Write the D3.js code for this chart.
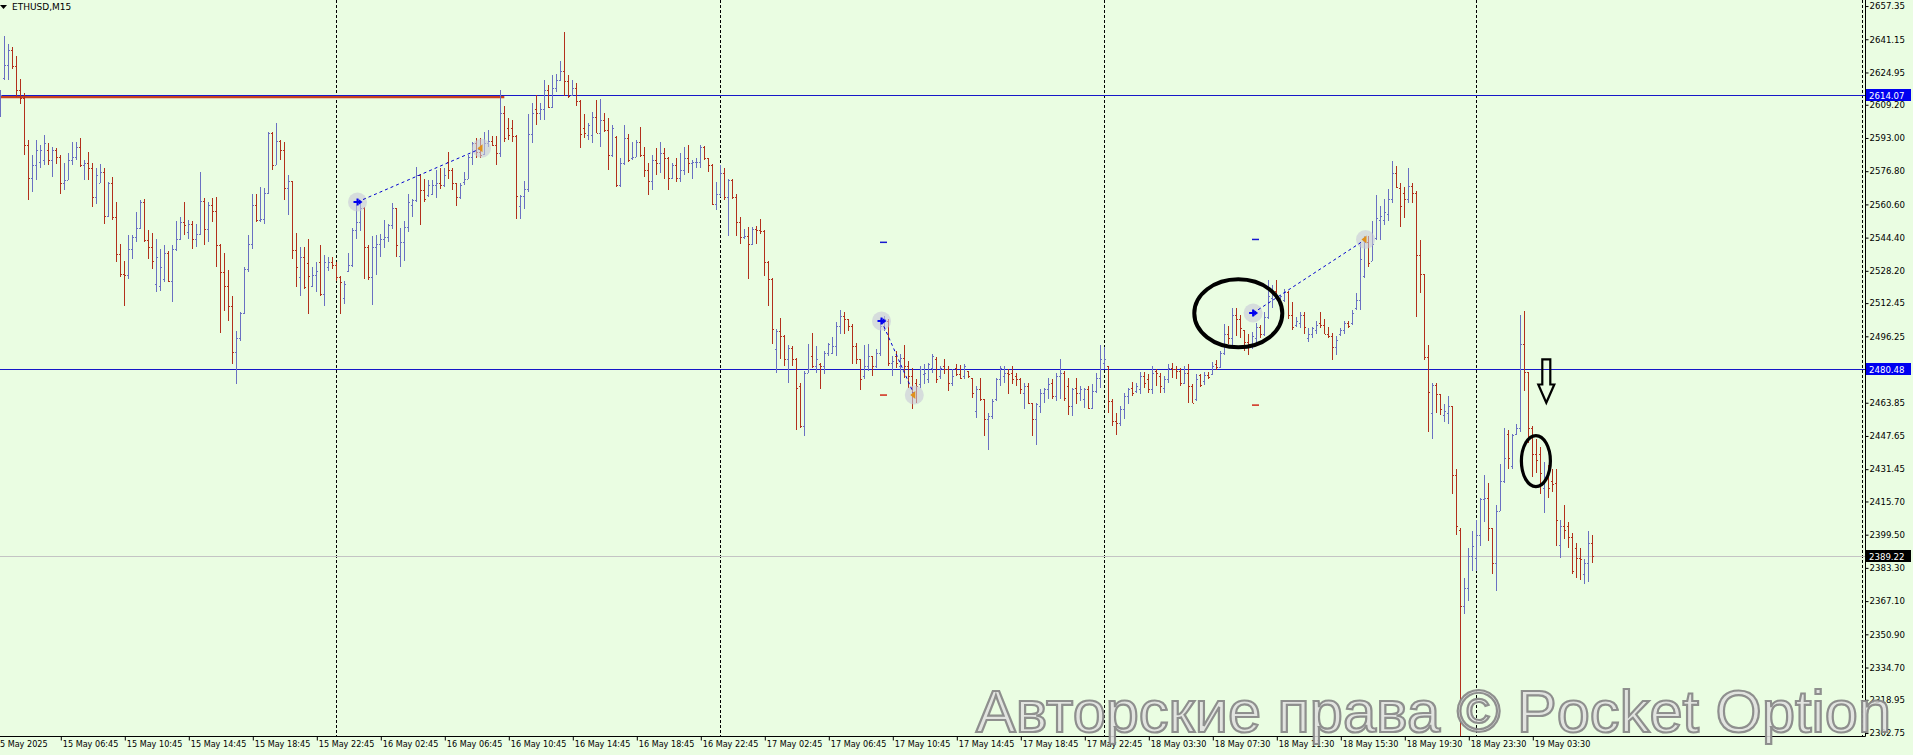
<!DOCTYPE html>
<html><head><meta charset="utf-8">
<script src="https://cdn.jsdelivr.net/npm/d3@7"></script>
<style>
html,body{margin:0;padding:0;background:#eafde2;overflow:hidden}
svg{display:block}
</style>
</head><body>
<svg id="chart" width="1913" height="755"></svg>
<script>
// ---------------- DATA ----------------
const symbolLabel = "ETHUSD,M15";

const open = [
2607.6,2622.3,2628.7,2636.0,2628.0,2616.6,2612.5,2589.6,2573.3,2579.8,
2581.4,2582.3,2587.2,2582.3,2587.2,2583.9,2570.8,2572.5,2582.3,2583.9,
2588.8,2579.8,2580.6,2578.2,2564.3,2570.8,2576.5,2554.8,2570.8,2554.5,
2536.5,2526.7,2526.2,2539.0,2544.7,2549.1,2561.8,2543.0,2540.0,2522.0,
2521.0,2524.0,2537.0,2523.0,2539.0,2543.9,2552.0,2547.0,2551.2,2543.9,
2546.3,2562.1,2548.8,2560.2,2557.2,2540.9,2527.5,2521.0,2511.2,2488.6,
2495.6,2507.5,2529.2,2541.4,2560.2,2552.8,2553.7,2566.4,2595.3,2579.8,
2591.6,2587.2,2568.4,2572.0,2538.6,2525.0,2535.0,2532.0,2521.0,2526.0,
2532.4,2516.9,2530.0,2532.4,2530.8,2525.1,2515.0,2528.3,2530.8,2547.9,
2552.0,2558.6,2540.0,2525.1,2540.0,2541.4,2543.9,2544.7,2550.4,2558.6,
2535.6,2542.2,2549.5,2560.1,2562.6,2574.9,2567.5,2565.1,2565.9,2570.0,
2570.8,2570.0,2581.4,2577.3,2570.8,2564.2,2571.6,2573.2,2583.9,2590.4,
2586.3,2585.0,2590.4,2591.5,2589.6,2585.5,2605.1,2597.7,2597.7,2594.1,
2560.0,2564.7,2568.3,2594.8,2607.0,2605.1,2607.2,2616.5,2607.9,2617.3,
2621.4,2625.8,2621.0,2614.1,2617.3,2611.1,2598.0,2594.5,2594.5,2603.0,
2595.3,2601.8,2596.9,2584.7,2593.6,2570.3,2580.6,2592.8,2583.0,2583.9,
2590.9,2584.7,2577.3,2571.9,2582.2,2580.6,2585.5,2583.0,2573.5,2579.8,
2573.5,2577.3,2583.0,2580.6,2581.1,2581.4,2588.8,2583.0,2579.8,2561.0,
2565.9,2575.7,2564.2,2572.4,2564.2,2552.0,2544.6,2545.4,2541.4,2548.7,
2548.0,2547.5,2532.4,2524.2,2489.9,2498.9,2496.4,2485.0,2490.7,2485.0,
2472.0,2452.4,2478.5,2486.7,2481.8,2482.6,2481.8,2488.3,2488.3,2491.6,
2501.4,2506.3,2504.7,2501.4,2491.6,2485.1,2476.9,2481.8,2486.7,2481.8,
2488.3,2501.4,2503.9,2483.4,2486.7,2481.8,2485.9,2481.8,2476.9,2473.6,
2472.8,2477.7,2475.3,2481.0,2485.1,2476.9,2481.8,2480.2,2473.6,2481.0,
2477.7,2476.9,2479.4,2476.1,2459.7,2470.4,2465.5,2455.7,2457.3,2465.5,
2475.3,2476.9,2478.5,2478.5,2476.9,2475.3,2468.7,2472.0,2463.8,2455.7,
2462.2,2468.7,2470.4,2473.6,2467.1,2476.9,2478.5,2472.0,2462.2,2471.2,
2468.7,2465.5,2470.4,2461.4,2469.5,2476.1,2483.4,2481.8,2464.6,2454.8,
2454.0,2460.6,2467.1,2471.2,2469.5,2470.4,2476.9,2475.3,2470.4,2479.4,
2476.9,2471.2,2475.3,2481.0,2480.2,2479.4,2473.6,2478.5,2472.0,2465.5,
2477.2,2474.4,2477.5,2478.1,2482.7,2481.2,2488.2,2497.3,2495.5,2506.5,
2504.7,2499.2,2493.6,2492.7,2495.5,2501.0,2497.3,2505.6,2514.8,2518.4,
2513.8,2513.8,2517.9,2506.5,2501.9,2502.8,2506.5,2495.5,2497.3,2499.2,
2502.8,2501.9,2497.3,2496.4,2490.9,2497.3,2499.2,2502.8,2502.8,2510.2,
2513.8,2525.7,2542.2,2533.1,2544.1,2553.2,2553.2,2556.0,2563.3,2576.1,
2568.8,2566.0,2563.3,2569.7,2566.0,2535.8,2526.7,2486.3,2458.9,2472.6,
2468.0,2457.9,2458.9,2462.5,2428.6,2402.0,2364.5,2373.6,2389.2,2388.3,
2399.3,2416.7,2417.6,2403.0,2385.6,2411.2,2425.9,2448.8,2433.2,2448.8,
2451.5,2492.7,2479.0,2451.5,2438.7,2438.7,2422.2,2427.7,2425.9,2424.9,
2394.7,2403.9,2403.9,2398.4,2392.9,2388.3,2380.1,2385.6,2395.6
];
const high = [
2616.6,2642.7,2638.6,2637.3,2632.9,2621.8,2614.9,2592.0,2584.7,2592.0,
2589.6,2594.5,2590.4,2588.8,2588.0,2584.7,2580.6,2585.5,2591.2,2591.2,
2593.2,2582.3,2586.0,2580.6,2578.2,2580.1,2578.2,2571.6,2574.1,2561.8,
2541.4,2533.2,2545.5,2545.5,2556.9,2562.6,2563.1,2547.9,2546.8,2543.9,
2539.0,2540.6,2538.1,2540.6,2552.4,2554.5,2561.8,2552.8,2552.4,2551.2,
2576.2,2563.5,2561.8,2563.5,2564.3,2541.4,2537.0,2528.8,2516.1,2498.9,
2507.9,2530.0,2545.8,2565.9,2565.9,2569.2,2568.7,2595.8,2596.1,2600.2,
2592.0,2590.9,2574.9,2572.0,2546.8,2539.8,2539.8,2543.9,2530.0,2532.4,
2540.6,2536.0,2534.9,2534.9,2532.4,2525.5,2523.4,2537.0,2549.1,2560.2,
2562.1,2559.4,2540.9,2545.0,2545.8,2546.3,2552.8,2551.2,2561.5,2558.9,
2549.0,2552.3,2565.9,2563.4,2579.0,2575.2,2573.2,2572.4,2572.4,2577.3,
2578.2,2578.2,2586.0,2578.2,2571.2,2570.8,2576.5,2584.7,2591.2,2592.8,
2593.2,2596.1,2596.9,2594.1,2594.1,2616.5,2608.4,2602.6,2601.8,2594.5,
2565.1,2571.9,2604.6,2610.0,2614.1,2610.0,2621.4,2619.0,2623.9,2624.2,
2630.4,2644.8,2623.9,2621.4,2619.8,2611.6,2604.6,2600.2,2605.9,2611.6,
2612.1,2605.1,2602.6,2599.4,2594.0,2583.0,2599.4,2594.8,2591.2,2592.0,
2598.5,2588.8,2580.6,2584.7,2588.0,2591.2,2588.0,2583.9,2580.6,2583.0,
2585.5,2588.8,2589.6,2582.2,2583.0,2589.6,2589.2,2583.4,2580.2,2571.6,
2579.8,2578.2,2573.2,2572.8,2565.9,2554.4,2548.7,2549.5,2549.5,2550.3,
2553.3,2548.0,2532.8,2524.6,2499.7,2505.4,2496.8,2491.8,2491.5,2485.8,
2473.6,2479.4,2492.4,2498.1,2491.6,2483.1,2489.2,2493.2,2495.7,2503.4,
2509.3,2507.9,2504.7,2502.2,2493.2,2485.1,2491.9,2492.4,2486.7,2490.0,
2504.7,2506.3,2504.7,2486.7,2489.2,2487.5,2491.9,2484.3,2481.0,2475.3,
2481.8,2482.6,2483.4,2487.5,2486.4,2481.8,2485.1,2481.8,2480.5,2482.6,
2482.1,2482.6,2479.4,2476.1,2472.0,2476.1,2465.5,2458.9,2465.5,2476.1,
2481.8,2481.8,2480.2,2481.8,2478.5,2476.1,2473.6,2473.6,2463.8,2463.8,
2470.4,2471.2,2476.1,2475.3,2478.5,2485.1,2479.4,2476.1,2471.2,2476.1,
2472.0,2471.2,2472.0,2472.8,2478.5,2491.9,2490.8,2481.8,2465.5,2458.9,
2462.2,2468.7,2471.2,2474.0,2473.6,2478.9,2478.9,2477.7,2481.8,2480.2,
2478.2,2476.9,2482.6,2483.4,2481.8,2481.0,2481.8,2482.6,2472.8,2477.7,
2478.1,2479.0,2479.0,2483.6,2484.5,2489.1,2502.5,2501.4,2510.2,2510.2,
2506.5,2499.5,2497.3,2498.3,2502.8,2501.9,2508.3,2523.9,2521.2,2523.9,
2516.6,2519.3,2518.4,2512.9,2505.6,2508.3,2508.3,2500.1,2501.0,2503.8,
2508.3,2504.7,2501.0,2497.7,2496.4,2500.1,2503.8,2503.8,2509.2,2517.5,
2541.3,2545.4,2545.0,2552.3,2565.1,2559.6,2563.3,2567.9,2582.0,2579.4,
2571.0,2569.2,2578.3,2571.0,2567.0,2543.2,2526.7,2491.8,2473.5,2473.5,
2468.0,2463.4,2467.1,2462.5,2431.4,2403.0,2378.2,2392.9,2401.1,2406.6,
2417.6,2428.6,2424.9,2403.0,2413.9,2434.1,2451.5,2450.6,2448.8,2453.4,
2506.5,2508.7,2479.0,2452.4,2446.0,2442.4,2435.0,2433.6,2431.4,2431.4,
2406.6,2413.9,2405.7,2400.2,2395.6,2392.9,2387.4,2401.1,2399.3
];
const low = [
2603.0,2621.5,2621.5,2626.4,2612.8,2609.5,2584.7,2562.6,2566.7,2572.5,
2578.2,2579.8,2579.8,2574.1,2580.1,2565.9,2567.5,2572.5,2579.8,2582.3,
2579.0,2572.5,2572.5,2559.4,2561.0,2570.8,2551.2,2554.5,2552.8,2532.4,
2525.1,2511.2,2524.3,2534.1,2542.2,2548.8,2542.2,2534.1,2529.2,2517.7,
2518.5,2522.6,2522.6,2512.8,2538.1,2543.0,2545.5,2543.9,2539.0,2539.8,
2545.5,2540.6,2542.2,2552.0,2530.0,2498.1,2508.7,2503.8,2482.6,2472.8,
2494.0,2507.0,2527.5,2539.0,2552.0,2552.0,2551.2,2565.9,2577.4,2579.8,
2582.3,2562.6,2555.3,2534.1,2520.2,2516.1,2519.3,2507.1,2520.5,2517.7,
2516.1,2511.2,2528.3,2529.2,2523.4,2507.1,2512.0,2527.5,2530.0,2543.9,
2547.5,2524.0,2523.7,2511.5,2526.2,2534.9,2539.3,2542.2,2548.8,2534.9,
2530.0,2533.2,2547.1,2554.4,2561.8,2550.7,2561.8,2564.2,2565.1,2563.7,
2568.3,2569.1,2573.2,2567.5,2559.8,2563.4,2570.0,2572.8,2579.8,2583.0,
2583.0,2584.5,2588.8,2589.2,2579.8,2583.9,2591.2,2592.0,2591.2,2553.6,
2553.6,2558.5,2566.7,2590.4,2599.4,2601.8,2601.8,2607.5,2607.5,2615.4,
2620.6,2613.3,2612.4,2613.5,2608.4,2588.0,2593.0,2592.0,2590.4,2595.3,
2588.8,2596.1,2577.3,2583.9,2569.1,2569.1,2580.0,2581.4,2582.2,2583.5,
2583.9,2574.0,2565.1,2567.5,2574.9,2575.7,2573.2,2567.5,2573.2,2571.6,
2571.6,2574.9,2575.7,2573.2,2578.2,2578.2,2582.2,2576.5,2560.1,2557.7,
2564.2,2562.6,2545.4,2563.4,2545.4,2541.4,2543.8,2524.2,2540.9,2541.4,
2546.2,2525.9,2511.2,2492.3,2478.4,2485.0,2481.7,2473.5,2481.7,2450.7,
2451.6,2447.5,2478.5,2481.0,2478.5,2470.4,2477.7,2486.7,2487.5,2486.7,
2497.3,2497.3,2499.0,2482.6,2482.6,2470.0,2475.3,2479.4,2476.9,2481.0,
2486.7,2499.0,2481.8,2476.9,2481.0,2472.8,2476.1,2471.2,2460.6,2463.8,
2471.2,2472.8,2473.6,2478.5,2473.6,2475.3,2477.7,2469.5,2472.0,2476.9,
2475.3,2475.3,2476.1,2466.3,2456.5,2464.6,2447.8,2440.9,2455.7,2464.6,
2472.0,2473.6,2467.9,2472.8,2472.0,2467.9,2460.6,2463.0,2447.5,2443.4,
2458.9,2463.8,2465.5,2465.5,2464.6,2465.5,2464.6,2458.1,2457.3,2463.0,
2464.6,2461.4,2460.6,2460.6,2468.7,2471.2,2480.2,2458.9,2452.4,2448.3,
2452.4,2455.7,2463.0,2467.1,2468.7,2467.9,2471.2,2468.7,2467.9,2472.0,
2468.7,2468.7,2473.6,2476.1,2475.3,2472.0,2472.8,2463.8,2463.8,2464.6,
2471.7,2472.6,2475.3,2477.2,2479.9,2480.8,2487.3,2492.7,2491.8,2496.4,
2495.5,2489.1,2487.3,2490.0,2491.8,2495.5,2496.4,2504.7,2510.2,2514.8,
2512.0,2512.9,2504.7,2499.2,2501.0,2500.1,2497.3,2493.6,2495.5,2497.3,
2500.1,2497.3,2495.5,2484.5,2487.3,2496.4,2497.3,2500.1,2501.9,2509.2,
2509.2,2524.8,2530.3,2533.1,2543.2,2543.2,2550.5,2552.3,2561.5,2568.8,
2549.6,2554.2,2561.5,2561.5,2505.6,2517.5,2484.5,2449.7,2446.0,2458.9,
2457.9,2454.3,2453.4,2419.4,2399.3,2301.5,2360.8,2367.2,2381.9,2381.9,
2393.8,2405.7,2396.5,2380.1,2371.8,2411.2,2424.9,2431.4,2431.4,2447.9,
2449.7,2469.8,2444.2,2427.7,2429.5,2419.4,2410.3,2417.6,2420.4,2393.8,
2388.3,2397.5,2392.9,2380.1,2378.2,2377.3,2375.5,2376.4,2385.6
];
const close = [
2614.1,2628.7,2636.0,2628.0,2616.6,2612.5,2589.6,2573.3,2579.8,2587.2,
2587.2,2590.4,2582.3,2587.2,2583.9,2570.8,2572.5,2582.3,2583.9,2588.8,
2579.8,2580.6,2578.2,2564.3,2574.9,2576.5,2554.8,2570.8,2554.5,2536.5,
2526.7,2526.2,2539.0,2544.7,2549.1,2561.8,2543.0,2540.0,2533.2,2534.9,
2530.0,2537.0,2523.0,2539.0,2543.9,2552.0,2550.4,2551.2,2543.9,2546.3,
2562.1,2548.8,2560.2,2557.2,2540.9,2527.5,2521.0,2511.2,2488.6,2495.6,
2507.5,2529.2,2541.4,2560.2,2552.8,2553.7,2566.4,2595.3,2579.8,2591.6,
2587.2,2568.4,2572.0,2538.6,2530.0,2535.0,2520.2,2525.9,2526.0,2528.0,
2516.9,2532.4,2532.4,2530.8,2525.1,2522.6,2522.0,2530.8,2547.9,2552.0,
2558.6,2540.0,2525.1,2540.0,2541.4,2543.9,2544.7,2550.4,2558.6,2540.6,
2542.5,2549.5,2561.8,2562.6,2574.9,2567.5,2563.4,2570.0,2570.0,2570.8,
2570.0,2574.9,2577.3,2570.8,2564.2,2570.0,2573.2,2583.9,2590.4,2586.3,
2584.7,2590.4,2591.5,2589.6,2585.5,2605.1,2592.8,2594.5,2594.1,2564.6,
2564.7,2568.3,2594.8,2605.1,2605.1,2607.2,2616.5,2607.9,2617.3,2621.4,
2625.8,2621.0,2613.3,2617.3,2611.1,2594.8,2595.3,2599.4,2603.0,2595.5,
2601.8,2596.9,2584.7,2597.7,2570.3,2580.6,2592.8,2582.2,2583.9,2590.9,
2584.7,2577.3,2571.9,2582.2,2580.6,2585.5,2583.0,2573.5,2579.8,2573.5,
2577.3,2583.0,2580.6,2581.4,2581.4,2588.8,2583.0,2579.8,2561.0,2565.9,
2575.7,2564.2,2572.4,2564.2,2552.0,2544.6,2545.4,2541.4,2548.7,2548.0,
2547.5,2532.4,2524.2,2499.7,2498.9,2496.4,2485.0,2490.7,2485.0,2471.1,
2452.4,2478.5,2480.2,2481.8,2485.1,2481.8,2488.3,2492.4,2491.6,2501.4,
2506.3,2504.7,2501.4,2491.6,2485.1,2475.3,2481.8,2486.7,2481.8,2488.3,
2501.4,2504.7,2483.4,2484.3,2483.4,2485.9,2481.8,2476.9,2468.7,2472.0,
2480.2,2478.5,2482.6,2486.7,2475.3,2481.0,2480.2,2473.6,2476.9,2477.7,
2476.1,2481.8,2476.9,2468.7,2470.4,2465.5,2455.7,2457.3,2464.6,2475.3,
2481.0,2478.5,2477.7,2475.3,2475.3,2470.4,2472.0,2463.8,2455.7,2463.0,
2468.7,2470.4,2472.8,2467.1,2476.9,2478.5,2466.3,2462.2,2470.4,2468.7,
2470.4,2470.4,2461.4,2469.5,2476.1,2485.1,2485.1,2464.6,2454.8,2454.0,
2460.6,2467.1,2470.4,2468.7,2472.0,2476.9,2473.6,2470.4,2478.5,2478.5,
2472.0,2475.3,2481.0,2480.2,2479.4,2473.6,2478.5,2472.0,2463.8,2475.3,
2472.6,2477.2,2476.3,2481.8,2481.2,2488.2,2497.3,2495.5,2506.5,2504.7,
2500.1,2493.6,2492.7,2496.4,2501.0,2497.3,2505.6,2515.7,2518.4,2516.6,
2515.7,2517.9,2506.5,2501.0,2503.8,2506.5,2501.0,2497.3,2500.1,2501.9,
2501.9,2497.5,2496.4,2490.9,2494.6,2499.2,2502.8,2501.4,2507.4,2513.8,
2534.0,2542.2,2532.2,2541.3,2554.2,2555.0,2556.9,2563.3,2576.1,2569.0,
2559.6,2563.3,2569.7,2566.0,2535.8,2526.7,2486.3,2468.9,2472.6,2468.0,
2460.7,2459.8,2462.5,2428.6,2403.9,2364.5,2373.6,2389.2,2393.8,2399.3,
2416.7,2417.6,2403.0,2385.6,2411.2,2425.9,2436.9,2436.9,2447.9,2451.5,
2492.7,2479.0,2451.5,2438.7,2436.0,2429.5,2427.7,2422.2,2424.0,2406.6,
2403.9,2402.0,2398.4,2381.9,2388.3,2387.4,2385.6,2395.6,2389.2
];

// visible price window of the chart
const priceMin = 2301.3, priceMax = 2660.3;
const barsVisible = 465;

const priceTicks = [2657.35,2641.15,2624.95,2609.20,2593.00,2576.80,2560.60,2544.40,2528.20,2512.45,2496.25,
  2463.85,2447.65,2431.45,2415.70,2399.50,2383.30,2367.10,2350.90,2334.70,2318.95,2302.75];

const timeLabels = ["15 May 2025","15 May 06:45","15 May 10:45","15 May 14:45","15 May 18:45","15 May 22:45",
  "16 May 02:45","16 May 06:45","16 May 10:45","16 May 14:45","16 May 18:45","16 May 22:45",
  "17 May 02:45","17 May 06:45","17 May 10:45","17 May 14:45","17 May 18:45","17 May 22:45",
  "18 May 03:30","18 May 07:30","18 May 11:30","18 May 15:30","18 May 19:30","18 May 23:30","19 May 03:30"];
const timeLabelBars = [0,15,31,47,63,79,95,111,127,143,159,175,191,207,223,239,255,271,287,303,319,335,351,367,383];

const daySeparatorBars = [84,180,276,369];

const levelLines = [2614.07, 2480.48];
const bidPrice = 2389.22;
const redLevel = {price: 2613.3, endBar: 126};

const trendLines = [
  {b0: 89.3, p0: 2561.8, b1: 120.3, p1: 2588.0},
  {b0: 220.3, p0: 2503.7, b1: 228.5, p1: 2467.6},
  {b0: 313.2, p0: 2507.6, b1: 341.3, p1: 2543.5}
];
const dashMarks = [
  {bar: 220.8, price: 2542.1, kind: "up"},
  {bar: 220.8, price: 2467.6, kind: "down"},
  {bar: 313.8, price: 2543.5, kind: "up"},
  {bar: 313.8, price: 2462.7, kind: "down"}
];
const ellipses = [
  {bar: 309.5, price: 2507.5, rx: 44, ry: 34, w: 4},
  {bar: 383.9, price: 2435.4, rx: 14.5, ry: 25.5, w: 3.2}
];
const arrowMark = {bar: 386.5, top: 2485.0, bottom: 2463.9};
const watermark = "Авторские права © Pocket Option";

// ---------------- LAYOUT ----------------
const W = 1913, H = 755;
const plotR = 1865, plotB = 736;
const BG = "#eafde2";
const UP = "#6a70c2", DOWN = "#b2301c";
const FONT = "'DejaVu Sans', Verdana, sans-serif";

const svg = d3.select("#chart");
svg.append("rect").attr("width", W).attr("height", H).attr("fill", BG);

const x = d3.scaleLinear().domain([0, barsVisible]).range([0.3, 0.3 + 4 * barsVisible]);
const y = d3.scaleLinear().domain([priceMin, priceMax]).range([plotB, 0]);

svg.append("defs").append("clipPath").attr("id", "plotclip")
  .append("rect").attr("x", 0).attr("y", 0).attr("width", plotR).attr("height", plotB);
const plot = svg.append("g").attr("clip-path", "url(#plotclip)");

// day separators
plot.selectAll("line.sep").data(daySeparatorBars).join("line")
  .attr("x1", d => Math.floor(x(d)) + 0.5).attr("x2", d => Math.floor(x(d)) + 0.5)
  .attr("y1", 0).attr("y2", plotB)
  .attr("stroke", "#000").attr("stroke-width", 1).attr("stroke-dasharray", "3,2");
// dashed marker near right edge
plot.append("line").attr("x1", plotR - 2.5).attr("x2", plotR - 2.5).attr("y1", 0).attr("y2", plotB)
  .attr("stroke", "#000").attr("stroke-dasharray", "3,2");

// bid line
plot.append("line").attr("x1", 0).attr("x2", plotR).attr("y1", Math.round(y(bidPrice)) + 0.5).attr("y2", Math.round(y(bidPrice)) + 0.5)
  .attr("stroke", "#c4c4c4").attr("stroke-width", 1);

// red level (thick) under blue line
plot.append("line").attr("x1", 0).attr("x2", x(redLevel.endBar))
  .attr("y1", y(redLevel.price) + 0.5).attr("y2", y(redLevel.price) + 0.5)
  .attr("stroke", "#c8401e").attr("stroke-width", 3);

// horizontal level lines
plot.selectAll("line.lvl").data(levelLines).join("line")
  .attr("x1", 0).attr("x2", plotR)
  .attr("y1", d => Math.round(y(d)) + 0.5).attr("y2", d => Math.round(y(d)) + 0.5)
  .attr("stroke", "#1717c8").attr("stroke-width", 1);

// OHLC bars
const idx = d3.range(open.length);
const barPath = i => {
  const c = Math.floor(x(i));
  const yh = Math.round(y(high[i])), yl = Math.round(y(low[i]));
  const yo = Math.round(y(open[i])) + 0.5, yc = Math.round(y(close[i])) + 0.5;
  return `M${c + 0.5},${yh}V${Math.max(yl, yh + 1)}M${c - 1},${yo}H${c}M${c + 1},${yc}H${c + 2}`;
};
plot.append("g").attr("shape-rendering", "crispEdges").selectAll("path").data(idx).join("path")
  .attr("d", barPath)
  .attr("fill", "none")
  .attr("stroke", i => close[i] >= open[i] ? UP : DOWN)
  .attr("stroke-width", 1);

// trend lines with anchor circles
const tl = plot.append("g");
trendLines.forEach(t => {
  [[t.b0, t.p0], [t.b1, t.p1]].forEach(([b, p]) => {
    tl.append("circle").attr("cx", x(b)).attr("cy", y(p)).attr("r", 9.5)
      .attr("fill", "#c8c8d8").attr("fill-opacity", 0.6);
  });
});
trendLines.forEach(t => {
  tl.append("line").attr("x1", x(t.b0)).attr("y1", y(t.p0)).attr("x2", x(t.b1)).attr("y2", y(t.p1))
    .attr("stroke", "#0000d0").attr("stroke-width", 1).attr("stroke-dasharray", "3,3");
  const sx = x(t.b0), sy = y(t.p0);
  tl.append("path").attr("d", `M${sx - 4},${sy}H${sx + 3}M${sx},${sy - 3.5}V${sy + 3.5}`)
    .attr("stroke", "#0000ee").attr("stroke-width", 2);
  tl.append("path").attr("d", `M${sx + 1},${sy - 3}L${sx + 5},${sy}L${sx + 1},${sy + 3}Z`).attr("fill", "#0000ee");
  const ex = x(t.b1), ey = y(t.p1);
  tl.append("path").attr("d", `M${ex - 4},${ey}L${ex + 1},${ey - 4}L${ex + 1},${ey + 4}Z`).attr("fill", "#e0901a");
});

// small dash marks
plot.selectAll("line.dm").data(dashMarks).join("line")
  .attr("x1", d => x(d.bar) - 3.5).attr("x2", d => x(d.bar) + 3.5)
  .attr("y1", d => y(d.price)).attr("y2", d => y(d.price))
  .attr("stroke", d => d.kind === "up" ? "#1818d0" : "#d02818").attr("stroke-width", 1.5);

// ellipses
plot.selectAll("ellipse").data(ellipses).join("ellipse")
  .attr("cx", d => x(d.bar)).attr("cy", d => y(d.price)).attr("rx", d => d.rx).attr("ry", d => d.ry)
  .attr("fill", "none").attr("stroke", "#000").attr("stroke-width", d => d.w);

// down arrow (outline)
{
  const ax = x(arrowMark.bar), at = y(arrowMark.top), ab = y(arrowMark.bottom);
  const hh = (ab - at) * 0.42;
  plot.append("path")
    .attr("d", `M${ax - 4},${at}H${ax + 4}V${ab - hh}H${ax + 8}L${ax},${ab}L${ax - 8},${ab - hh}H${ax - 4}Z`)
    .attr("fill", "none").attr("stroke", "#000").attr("stroke-width", 2.2).attr("stroke-linejoin", "miter");
}

// ---------------- AXES ----------------
svg.append("line").attr("x1", 0).attr("x2", plotR + 0.5).attr("y1", plotB + 0.5).attr("y2", plotB + 0.5).attr("stroke", "#000");
svg.append("line").attr("x1", plotR + 0.5).attr("x2", plotR + 0.5).attr("y1", 0).attr("y2", plotB + 0.5).attr("stroke", "#000");

const yAxis = d3.axisRight(y).tickValues(priceTicks).tickFormat(d3.format(".2f")).tickSize(3).tickPadding(1);
const gy = svg.append("g").attr("transform", `translate(${plotR + 0.5},0)`).call(yAxis);
gy.select(".domain").remove();
gy.selectAll("text").attr("font-family", FONT).attr("font-size", 8.6).attr("fill", "#000");
gy.selectAll("line").attr("stroke", "#000");

const xAxis = d3.axisBottom(x).tickValues(timeLabelBars).tickFormat((d, i) => timeLabels[i]).tickSize(4).tickPadding(2);
const gx = svg.append("g").attr("transform", `translate(0,${plotB + 0.5})`).call(xAxis);
gx.select(".domain").remove();
gx.selectAll(".tick line").attr("stroke", "#000").attr("opacity", (d, i) => i === 0 ? 0 : 1)
  .attr("transform", "translate(0.5,0)");
gx.selectAll("text").attr("font-family", FONT).attr("font-size", 8.1).attr("fill", "#000")
  .attr("text-anchor", "start").attr("x", (d, i) => i === 0 ? -6 : 2).attr("y", 5).attr("dy", "0.71em");

// price tags
function tag(price, bg, fg) {
  const yy = Math.round(y(price)) + 0.5;
  svg.append("rect").attr("x", plotR + 1).attr("y", yy - 6.5).attr("width", W - plotR - 3).attr("height", 12).attr("fill", bg);
  svg.append("text").attr("x", plotR + 4).attr("y", yy).attr("dy", "0.35em")
    .attr("font-family", FONT).attr("font-size", 8.6).attr("fill", fg).text(d3.format(".2f")(price));
}
levelLines.forEach(p => tag(p, "#0000f0", "#fff"));
tag(bidPrice, "#000", "#fff");

// symbol label
svg.append("path").attr("d", "M0,5H7L3.5,9Z").attr("fill", "#000");
svg.append("text").attr("x", 12).attr("y", 10).attr("font-family", FONT).attr("font-size", 9).attr("fill", "#000").text(symbolLabel);

// watermark
const defs = svg.select("defs");
const f = defs.append("filter").attr("id", "soft").attr("x", "-5%").attr("y", "-20%").attr("width", "110%").attr("height", "140%");
f.append("feGaussianBlur").attr("stdDeviation", 0.7);
svg.append("text").attr("x", 976).attr("y", 732)
  .attr("font-family", "'Liberation Sans', Arial, sans-serif").attr("font-size", 60)
  .attr("textLength", 915).attr("lengthAdjust", "spacingAndGlyphs")
  .attr("fill", "#e0e0e0").attr("fill-opacity", 0.85)
  .attr("stroke", "#858585").attr("stroke-width", 2.2).attr("stroke-opacity", 0.9)
  .attr("filter", "url(#soft)")
  .text(watermark);
</script>
</body></html>
